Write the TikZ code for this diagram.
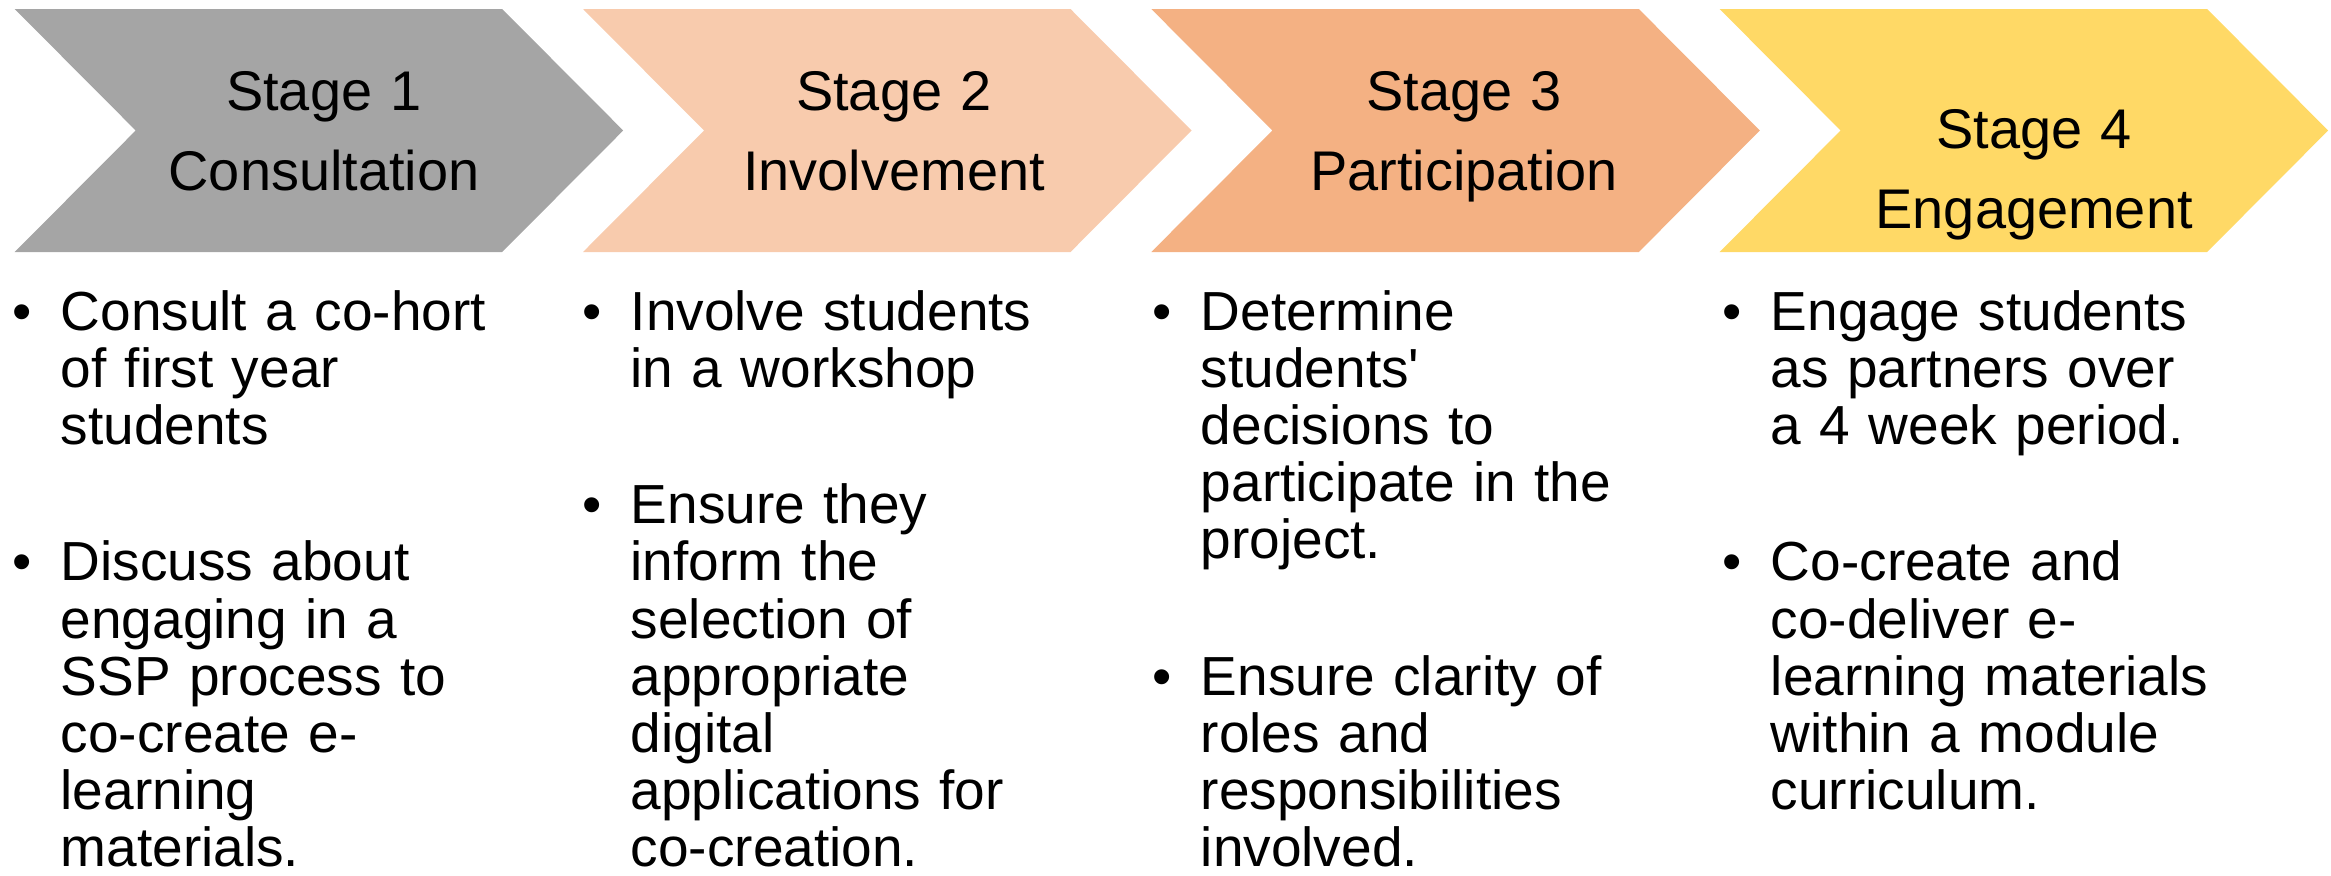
\documentclass[tikz,border=0pt]{standalone}
\usepackage{fontspec}
\setmainfont{Liberation Sans}
\usetikzlibrary{positioning}
\definecolor{stagegray}{HTML}{A5A5A5}
\definecolor{stagepeach}{HTML}{F8CBAD}
\definecolor{stageorange}{HTML}{F4B183}
\definecolor{stageyellow}{HTML}{FFD966}

% hanging bullet item, lines broken by hand
\newlength{\bulind}
\setlength{\bulind}{0.48cm}
\newcommand{\bitem}[1]{\hangindent=\bulind\hangafter=1\noindent\makebox[\bulind][l]{\textbullet}#1\par}
\newcommand{\bgap}{\vspace{22.7pt}}

\begin{document}
\begin{tikzpicture}[x=0.01cm, y=-0.01cm]
\tikzstyle{stagetitle} = [text width=5cm, align=center, anchor=base, inner sep=0pt, font=\fontsize{15.9pt}{22.76pt}\selectfont]
\tikzstyle{bullets} = [text width=5.3cm, align=left, anchor=base west, inner sep=0pt, font=\fontsize{15.65pt}{16.22pt}\selectfont\setlength{\parskip}{0pt}]

\useasboundingbox (0,0) rectangle (2331,875);

% chevrons
\foreach \i/\col in {0/stagegray, 1/stagepeach, 2/stageorange, 3/stageyellow} {
  \pgfmathsetmacro{\xo}{14.7+568.3*\i}
  \fill[\col] (\xo,9) -- ++(487.5,0) -- ++(121,121.5) -- ++(-121,121.5) -- ++(-487.5,0) -- ++(121,-121.5) -- cycle;
}

% stage titles
\node (s1) [stagetitle] at (324,110) {Stage 1\\Consultation};
\node (s2) [stagetitle, base right=0.683cm of s1] {Stage 2\\Involvement};
\node (s3) [stagetitle, base right=0.683cm of s2] {Stage 3\\Participation};
\node (s4) [stagetitle, base right=0.683cm of s3, yshift=-0.38cm] {Stage 4\\Engagement};

% bullet lists
\node (b1) [bullets] at (12,330) {\bitem{Consult a co-hort\newline of first year\newline students}\bgap
  \bitem{Discuss about\newline engaging in a\newline SSP process to\newline co-create e-\newline learning\newline materials.}};
\node (b2) [bullets, base right=0.383cm of b1] {\bitem{Involve students\newline in a workshop}\bgap
  \bitem{Ensure they\newline inform the\newline selection of\newline appropriate\newline digital\newline applications for\newline co-creation.}};
\node (b3) [bullets, base right=0.383cm of b2] {\bitem{Determine\newline students\textquotesingle\newline decisions to\newline participate in the\newline project.}\bgap
  \bitem{Ensure clarity of\newline roles and\newline responsibilities\newline involved.}};
\node (b4) [bullets, base right=0.383cm of b3] {\bitem{Engage students\newline as partners over\newline a 4 week period.}\bgap
  \bitem{Co-create and\newline co-deliver e-\newline learning materials\newline within a module\newline curriculum.}};

\end{tikzpicture}
\end{document}
